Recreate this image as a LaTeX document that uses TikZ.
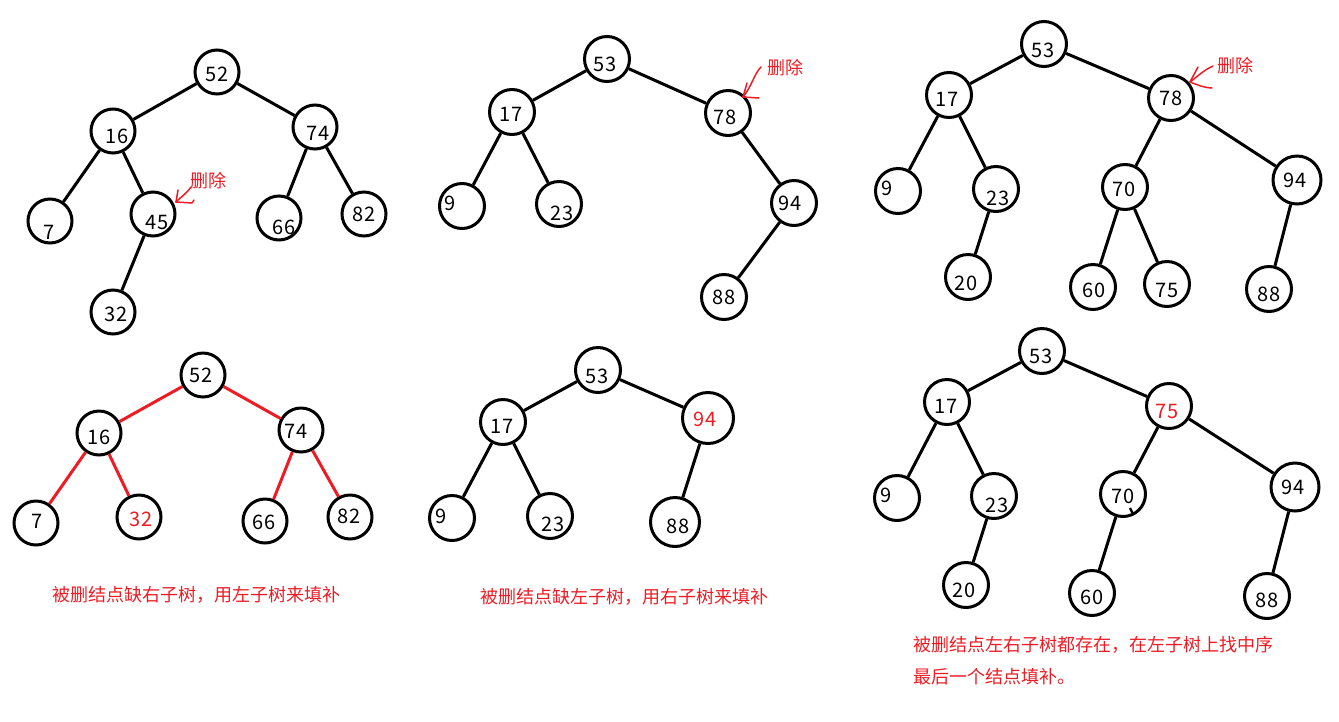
\documentclass[tikz,border=0pt]{standalone}
\usepackage{fontspec}
\setmainfont{Noto Sans CJK SC}
\definecolor{pen}{RGB}{237,28,36}
\begin{document}
\begin{tikzpicture}[x=1pt,y=-1pt,
  tn/.style={circle,draw,line width=3pt,minimum size=45pt,inner sep=0pt},
  num/.style={inner sep=0pt,font=\fontsize{20}{23}\selectfont},
  ed/.style={line width=3pt},
  red ed/.style={line width=3pt,draw=pen},
  mark pen/.style={line width=1.5pt,draw=pen,line cap=round,line join=round},
  captext/.style={inner sep=0pt,anchor=west,text=pen,font=\fontsize{18}{21}\selectfont},
  deltext/.style={inner sep=0pt,anchor=west,text=pen,font=\fontsize{18}{21}\selectfont}]
\useasboundingbox (0,0) rectangle (1339,721);
% ---------- tree 1 ----------
\node[tn,minimum size=44pt] (a52) at (217,72) {}; \node[num] (a52t) at (217,74) {52};
\node[tn,minimum size=44pt] (a16) at (113,131) {}; \node[num] (a16t) at (117,136) {16};
\node[tn,minimum size=44pt] (a74) at (315,127) {}; \node[num] (a74t) at (318,133) {74};
\node[tn,minimum size=44pt] (a7) at (50,221) {}; \node[num] (a7t) at (49,232) {7};
\node[tn,minimum size=44pt] (a45) at (153,214) {}; \node[num] (a45t) at (157,222) {45};
\node[tn,minimum size=44pt] (a66) at (279,218) {}; \node[num] (a66t) at (284,227) {66};
\node[tn,minimum size=44pt] (a82) at (364,214) {}; \node[num] (a82t) at (364,214) {82};
\node[tn,minimum size=44pt] (a32) at (113,312) {}; \node[num] (a32t) at (116,314) {32};
\draw[ed] (a52) -- (a16); \draw[ed] (a52) -- (a74);
\draw[ed] (a16) -- (a7); \draw[ed] (a16) -- (a45); \draw[ed] (a45) -- (a32);
\draw[ed] (a74) -- (a66); \draw[ed] (a74) -- (a82);
\node[deltext] (adel) at (190,181) {删除};
\coordinate (aa1) at (191,187); \coordinate (aa2) at (176,202);
\draw[mark pen] (aa1) .. controls (186,194) and (182,196) .. (aa2);
\draw[mark pen] (aa2) -- (178,190);
\draw[mark pen] (aa2) -- (192,203) -- (194,200);
% ---------- tree 2 ----------
\node[tn] (b53) at (607,59) {}; \node[num] (b53t) at (605,64) {53};
\node[tn] (b17) at (512,112) {}; \node[num] (b17t) at (511,114) {17};
\node[tn] (b78) at (728,113) {}; \node[num] (b78t) at (725,117) {78};
\node[tn] (b9) at (462,206) {}; \node[num] (b9t) at (450,203) {9};
\node[tn] (b23) at (559,204) {}; \node[num] (b23t) at (562,213) {23};
\node[tn] (b94) at (794,203) {}; \node[num] (b94t) at (790,203) {94};
\node[tn] (b88) at (724,297) {}; \node[num] (b88t) at (724,297) {88};
\draw[ed] (b53) -- (b17); \draw[ed] (b53) -- (b78);
\draw[ed] (b17) -- (b9); \draw[ed] (b17) -- (b23);
\draw[ed] (b78) -- (b94); \draw[ed] (b94) -- (b88);
\node[deltext] (bdel) at (767,68) {删除};
\coordinate (ba1) at (761,67); \coordinate (ba2) at (743,97);
\draw[mark pen] (ba1) .. controls (754,74) and (752,86) .. (ba2);
\draw[mark pen] (ba2) -- (747,83);
\draw[mark pen] (ba2) -- (759,98);
% ---------- tree 3 ----------
\node[tn] (c53) at (1044,44) {}; \node[num] (c53t) at (1043,50) {53};
\node[tn] (c17) at (949,95) {}; \node[num] (c17t) at (947,99) {17};
\node[tn] (c78) at (1171,98) {}; \node[num] (c78t) at (1171,98) {78};
\node[tn] (c9) at (898,191) {}; \node[num] (c9t) at (887,188) {9};
\node[tn] (c23) at (996,189) {}; \node[num] (c23t) at (998,198) {23};
\node[tn] (c70) at (1125,187) {}; \node[num] (c70t) at (1124,189) {70};
\node[tn,minimum size=48pt] (c94) at (1297,180) {}; \node[num] (c94t) at (1295,180) {94};
\node[tn] (c20) at (968,277) {}; \node[num] (c20t) at (966,283) {20};
\node[tn] (c60) at (1093,287) {}; \node[num] (c60t) at (1094,290) {60};
\node[tn] (c75) at (1167,284) {}; \node[num] (c75t) at (1167,290) {75};
\node[tn] (c88) at (1269,289) {}; \node[num] (c88t) at (1269,294) {88};
\draw[ed] (c53) -- (c17); \draw[ed] (c53) -- (c78);
\draw[ed] (c17) -- (c9); \draw[ed] (c17) -- (c23); \draw[ed] (c23) -- (c20);
\draw[ed] (c78) -- (c70); \draw[ed] (c78) -- (c94);
\draw[ed] (c70) -- (c60); \draw[ed] (c70) -- (c75); \draw[ed] (c94) -- (c88);
\node[deltext] (cdel) at (1217,66) {删除};
\coordinate (ca1) at (1213,66); \coordinate (ca2) at (1190,82);
\draw[mark pen] (ca1) .. controls (1204,70) and (1198,76) .. (ca2);
\draw[mark pen] (ca2) -- (1198,67);
\draw[mark pen] (ca2) .. controls (1200,86) and (1206,88) .. (1212,88);
% ---------- tree 4 ----------
\node[tn,minimum size=44pt] (d52) at (203,375) {}; \node[num] (d52t) at (201,375) {52};
\node[tn,minimum size=44pt] (d16) at (99,433) {}; \node[num] (d16t) at (99,437) {16};
\node[tn,minimum size=44pt] (d74) at (301,430) {}; \node[num] (d74t) at (296,431) {74};
\node[tn,minimum size=44pt] (d7) at (36,523) {}; \node[num] (d7t) at (37,521) {7};
\node[tn,minimum size=44pt] (d32) at (139,517) {}; \node[num,text=pen] (d32t) at (141,519) {32};
\node[tn,minimum size=44pt] (d66) at (265,521) {}; \node[num] (d66t) at (264,522) {66};
\node[tn,minimum size=44pt] (d82) at (350,517) {}; \node[num] (d82t) at (349,516) {82};
\draw[red ed] (d52) -- (d16); \draw[red ed] (d52) -- (d74);
\draw[red ed] (d16) -- (d7); \draw[red ed] (d16) -- (d32);
\draw[red ed] (d74) -- (d66); \draw[red ed] (d74) -- (d82);
\node[captext] (dcap) at (52,595) {被删结点缺右子树，用左子树来填补};
% ---------- tree 5 ----------
\node[tn] (e53) at (598,370) {}; \node[num] (e53t) at (597,376) {53};
\node[tn] (e17) at (503,422) {}; \node[num] (e17t) at (502,426) {17};
\node[tn,minimum size=51pt] (e94) at (708,418) {}; \node[num,text=pen] (e94t) at (705,419) {94};
\node[tn] (e9) at (452,518) {}; \node[num] (e9t) at (441,516) {9};
\node[tn] (e23) at (550,516) {}; \node[num] (e23t) at (553,524) {23};
\node[tn,minimum size=49pt] (e88) at (675,522) {}; \node[num] (e88t) at (678,526) {88};
\draw[ed] (e53) -- (e17); \draw[ed] (e53) -- (e94);
\draw[ed] (e17) -- (e9); \draw[ed] (e17) -- (e23); \draw[ed] (e94) -- (e88);
\node[captext] (ecap) at (480,597) {被删结点缺左子树，用右子树来填补};
% ---------- tree 6 ----------
\node[tn] (f53) at (1042,351) {}; \node[num] (f53t) at (1041,356) {53};
\node[tn] (f17) at (947,402) {}; \node[num] (f17t) at (946,406) {17};
\node[tn] (f75) at (1169,406) {}; \node[num,text=pen] (f75t) at (1167,411) {75};
\node[tn] (f9) at (897,498) {}; \node[num] (f9t) at (886,495) {9};
\node[tn] (f23) at (994,496) {}; \node[num] (f23t) at (997,505) {23};
\node[tn] (f70) at (1123,494) {}; \node[num] (f70t) at (1123,496) {70};
\node[tn,minimum size=48pt] (f94) at (1295,487) {}; \node[num] (f94t) at (1293,487) {94};
\node[tn] (f20) at (966,585) {}; \node[num] (f20t) at (964,590) {20};
\node[tn] (f60) at (1092,593) {}; \node[num] (f60t) at (1092,597) {60};
\node[tn] (f88) at (1267,596) {}; \node[num] (f88t) at (1267,600) {88};
\draw[ed] (f53) -- (f17); \draw[ed] (f53) -- (f75);
\draw[ed] (f17) -- (f9); \draw[ed] (f17) -- (f23); \draw[ed] (f23) -- (f20);
\draw[ed] (f75) -- (f70); \draw[ed] (f75) -- (f94);
\draw[ed] (f70) -- (f60); \draw[ed] (f94) -- (f88);
\coordinate (fstub) at (1130,508);
\draw[line width=2.4pt] (fstub) -- (1133,514);
\node[captext] (fcap1) at (913,645) {被删结点左右子树都存在，在左子树上找中序};
\node[captext] (fcap2) at (913,677) {最后一个结点填补。};
\end{tikzpicture}
\end{document}
